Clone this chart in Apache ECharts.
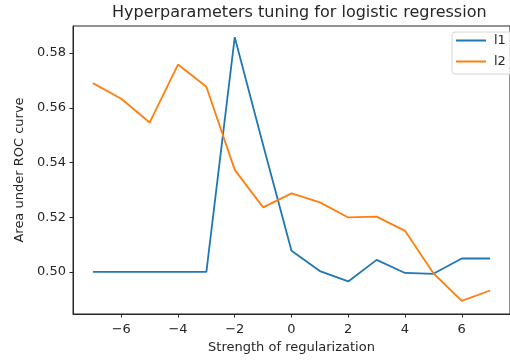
<!DOCTYPE html>
<html>
<head>
<meta charset="utf-8">
<script src="https://cdn.jsdelivr.net/npm/echarts@6/dist/echarts.min.js"></script>
<style>
  html, body { margin: 0; padding: 0; background: #fff; }
  #chart { width: 510px; height: 360px; }
</style>
</head>
<body>
<div id="chart"></div>
<script>
// Regularization strength (log scale exponent)
const strength = [-7, -6, -5, -4, -3, -2, -1, 0, 1, 2, 3, 4, 5, 6, 7];
// ROC AUC for each penalty type
const aucL1 = [0.500, 0.500, 0.500, 0.500, 0.500, 0.5858, 0.5464, 0.5077, 0.5003, 0.4965, 0.5044, 0.4996, 0.4993, 0.5049, 0.5049];
const aucL2 = [0.5690, 0.5633, 0.5546, 0.5758, 0.5677, 0.5373, 0.5236, 0.5287, 0.5254, 0.5199, 0.5202, 0.5150, 0.4995, 0.4894, 0.4932];
const xTicks = [-6, -4, -2, 0, 2, 4, 6];
const yTicks = [0.50, 0.52, 0.54, 0.56, 0.58];

const font = 'DejaVu Sans';
const textColor = '#262626';
const chart = echarts.init(document.getElementById('chart'), null, { renderer: 'canvas' });

const pairs = (ys) => strength.map((x, i) => [x, ys[i]]);

chart.setOption({
  animation: false,
  backgroundColor: '#fff',
  title: {
    text: 'Hyperparameters tuning for logistic regression',
    left: 107, top: 0,
    textStyle: { fontFamily: font, fontSize: 16, fontWeight: 'normal', color: textColor }
  },
  grid: {
    left: 73, top: 26, right: -9, bottom: 46,
    show: true, borderColor: '#262626', borderWidth: 1, backgroundColor: '#fff'
  },
  legend: {
    orient: 'vertical', left: 452, top: 32,
    data: ['l1', 'l2'],
    icon: 'rect', itemWidth: 30, itemHeight: 2, itemGap: 8,
    padding: [2, 14, 6, 4],
    borderColor: '#d6d6d6', borderWidth: 1, borderRadius: 3,
    backgroundColor: 'rgba(255,255,255,0.8)',
    textStyle: { fontFamily: font, fontSize: 13, color: textColor, padding: [0, 0, 0, 3], lineHeight: 13 }
  },
  xAxis: {
    type: 'value', min: -7.7, max: 7.7,
    name: 'Strength of regularization', nameLocation: 'middle', nameGap: 27,
    nameTextStyle: { fontFamily: font, fontSize: 13, color: textColor },
    axisLine: { show: true, onZero: false, lineStyle: { color: '#262626', width: 1 } },
    axisTick: { show: true, inside: false, length: 3.5, customValues: xTicks, lineStyle: { color: '#262626' } },
    axisLabel: {
      customValues: xTicks, margin: 9,
      fontFamily: font, fontSize: 13, color: textColor,
      formatter: (v) => (v < 0 ? '\u2212' + Math.abs(v) : String(v))
    },
    splitLine: { show: false }
  },
  yAxis: {
    type: 'value', min: 0.4846, max: 0.5899,
    name: 'Area under ROC curve', nameLocation: 'middle', nameGap: 47, nameRotate: 90,
    nameTextStyle: { fontFamily: font, fontSize: 13, color: textColor },
    axisLine: { show: true, onZero: false, lineStyle: { color: '#262626', width: 1 } },
    axisTick: { show: true, inside: false, length: 3.5, customValues: yTicks, lineStyle: { color: '#262626' } },
    axisLabel: {
      customValues: yTicks, margin: 7,
      fontFamily: font, fontSize: 13, color: textColor,
      formatter: (v) => v.toFixed(2)
    },
    splitLine: { show: false }
  },
  series: [
    {
      name: 'l1', type: 'line', data: pairs(aucL1),
      showSymbol: false, symbol: 'none',
      lineStyle: { color: '#1f77b4', width: 1.8 }, itemStyle: { color: '#1f77b4' }
    },
    {
      name: 'l2', type: 'line', data: pairs(aucL2),
      showSymbol: false, symbol: 'none',
      lineStyle: { color: '#ff7f0e', width: 1.8 }, itemStyle: { color: '#ff7f0e' }
    }
  ]
});
</script>
</body>
</html>
